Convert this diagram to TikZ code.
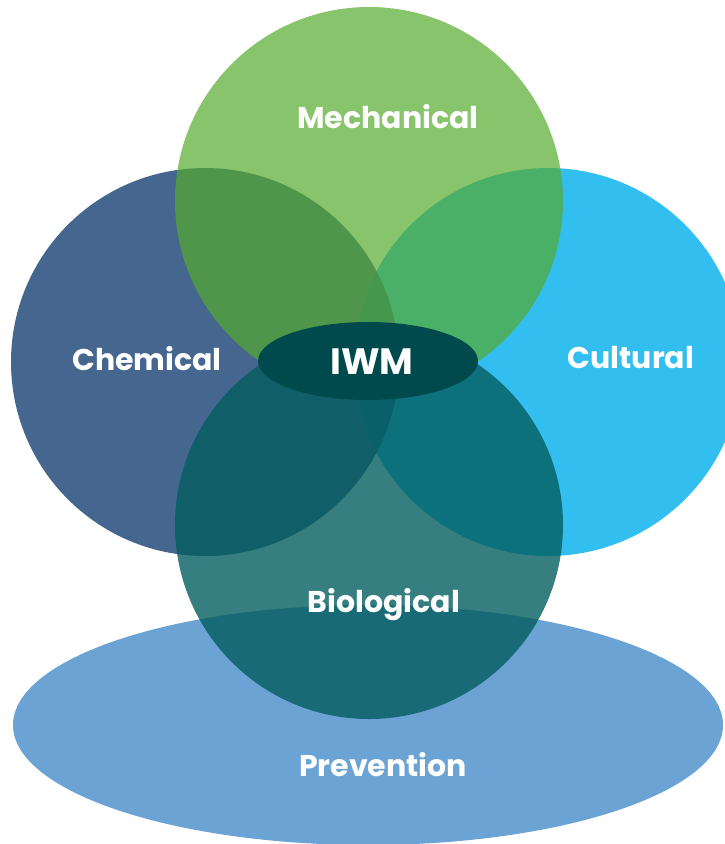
\documentclass[tikz,border=0pt]{standalone}
\usepackage{fontspec}
\setmainfont{Poppins}
\usetikzlibrary{positioning}

\definecolor{mechgreen}{RGB}{85,171,46}
\definecolor{chemblue}{RGB}{68,102,143}
\definecolor{cultblue}{RGB}{51,190,240}
\definecolor{chemcult}{RGB}{30,104,152}
\definecolor{biolteal}{RGB}{4,94,95}
\definecolor{prevblue}{RGB}{107,163,212}
\definecolor{iwmdark}{RGB}{0,74,77}

\tikzset{
	label/.style={text=white, font=\bfseries\fontsize{22.5}{26}\selectfont, anchor=base, inner sep=0pt},
	corelabel/.style={label, font=\bfseries\fontsize{27.5}{30}\selectfont}
}

\begin{document}
\begin{tikzpicture}[x=0.75pt,y=-0.75pt]  % 1 unit = 1 pixel of the reference

% page frame
\useasboundingbox (0,0) rectangle (725,844);
\clip (0,0) rectangle (725,844);

% prevention (base)
\fill[prevblue] (368,725) ellipse (355 and 120);

% chemical and cultural
\fill[chemblue] (205,362) circle (194);
\fill[cultblue] (548,362) circle (194);
\begin{scope}
	\clip (205,362) circle (194);
	\fill[chemcult] (548,362) circle (194);
\end{scope}

% mechanical
\fill[mechgreen, fill opacity=0.7] (369,201) circle (194);

% biological
\fill[biolteal, fill opacity=0.8] (369,525) circle (194);

% core
\fill[iwmdark] (368,361) ellipse (110 and 39);

% labels
\node[label] (mech) at (388,128) {Mechanical};
\node[label] (chem) at (147,370) {Chemical};
\node[label] (cult) at (631,368) {Cultural};
\node[label] (biol) at (384,612) {Biological};
\node[label] (prev) at (383,776) {Prevention};
\node[corelabel] (iwm) at (372,374) {IWM};

\end{tikzpicture}
\end{document}
